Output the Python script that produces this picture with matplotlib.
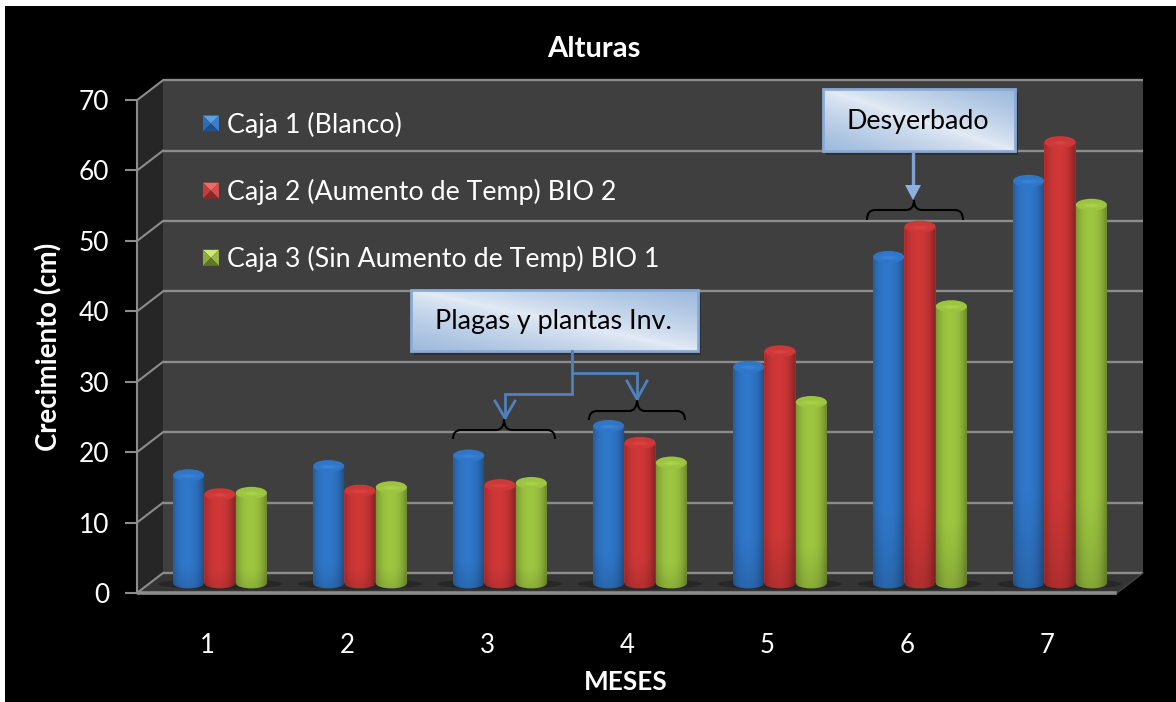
import numpy as np
import matplotlib
matplotlib.use("Agg")
from matplotlib import pyplot as plt
from matplotlib.legend_handler import HandlerBase
from matplotlib.patches import Ellipse, Patch, PathPatch, Polygon, Rectangle
from matplotlib.path import Path
from matplotlib.transforms import ScaledTranslation

MESES = [1, 2, 3, 4, 5, 6, 7]
caja1 = [15.3, 16.6, 18.1, 22.3, 30.7, 46.3, 57.1]
caja2 = [12.6, 13.1, 13.9, 19.9, 32.9, 50.6, 62.6]
caja3 = [12.8, 13.6, 14.2, 17.1, 25.7, 39.3, 53.7]
nombres = ["Caja 1 (Blanco)", "Caja 2 (Aumento de Temp) BIO 2", "Caja 3 (Sin Aumento de Temp) BIO 1"]
colores = ["#2f75c6", "#cb3636", "#9ac23f"]

W, H = 1176, 702
plt.rcParams["font.family"] = ["Lato", "DejaVu Sans"]
fig = plt.figure(figsize=(W / 100, H / 100), dpi=100, facecolor="white")


def caja_px(x0, y0, x1, y1):
    return [x0 / W, 1 - y1 / H, (x1 - x0) / W, (y1 - y0) / H]


# fondo negro y paredes del grafico 3D, en pixeles
fondo = fig.add_axes([0, 0, 1, 1], zorder=0)
fondo.set_xlim(0, W)
fondo.set_ylim(H, 0)
fondo.axis("off")
fondo.add_patch(Rectangle((5, 6), W - 5, H - 6, fc="black", ec="none"))
fondo.add_patch(Rectangle((163, 80), 980, 493, fc="#3f3f3f", ec="none"))
fondo.add_patch(Polygon([(137, 100), (163, 80), (163, 573), (137, 593)], fc="#262626", ec="none"))
fondo.add_patch(Polygon([(137, 593), (163, 573), (1143, 573), (1117, 593)], fc="#343434", ec="none"))
gris = "#8c8c8c"
for i in range(8):
    yb = 573 - i * 70.4
    yf = 593 - i * 70.4
    fondo.plot([163, 1143], [yb, yb], color=gris, lw=1.7, solid_capstyle="butt")
    fondo.plot([137, 163], [yf, yb], color=gris, lw=1.5)
fondo.plot([137, 1117], [593, 593], color=gris, lw=2.6, solid_capstyle="butt")
fondo.plot([1117, 1143], [593, 573], color="#444444", lw=1)

# sombra de los grupos en el piso
for mes in MESES:
    fondo.add_patch(Ellipse((207 + (mes - 1) * 139.9 + 13, 584), 124, 11, fc="#1c1c1c", ec="none", alpha=0.5))

# ejes reales: el plano frontal del grafico
ax = fig.add_axes(caja_px(137, 100, 1117, 593), zorder=1)
ax.patch.set_alpha(0)
ax.set_xlim(0.5, 7.5)
ax.set_ylim(0, 70)
for lado in ["top", "right", "bottom"]:
    ax.spines[lado].set_visible(False)
ax.spines["left"].set_color(gris)
ax.spines["left"].set_linewidth(1.5)
ax.set_xticks(MESES)
ax.set_yticks(range(0, 71, 10))
ax.tick_params(axis="x", length=0, pad=29, labelsize=18.5, colors="white")
ax.tick_params(axis="y", length=9, width=1.5, color=gris, pad=11, labelsize=19, labelcolor="white")
ax.set_xlabel("MESES", fontsize=18.8, fontweight="bold", color="white", va="center")
ax.set_ylabel("Crecimiento (cm)", fontsize=19.9, fontweight="bold", color="white", va="center")
ax.xaxis.set_label_coords(0.499, -0.1805)
ax.yaxis.set_label_coords(-0.0899, 0.5)
ax.set_title("Alturas", fontsize=21, fontweight="bold", color="white", x=0.466, pad=31)

# las barras estan a media profundidad del piso
prof = ax.transData + ScaledTranslation(0.13, 0.10, fig.dpi_scale_trans)
ancho = 0.222
alto_elipse = 12 / 7.04


def cilindro(x, v, color, z):
    rgb = np.array(matplotlib.colors.to_rgb(color))
    l, r = x - ancho / 2, x + ancho / 2
    barra = ax.bar(x, v, ancho, color=color, transform=prof, zorder=z)[0]
    k = alto_elipse / 2 * 1.2
    verts = [(l, v), (l, 0), (l, -k), (r, -k), (r, 0), (r, v), (l, v)]
    codes = [Path.MOVETO, Path.LINETO, Path.CURVE4, Path.CURVE4, Path.CURVE4, Path.LINETO, Path.CLOSEPOLY]
    silueta = PathPatch(Path(verts, codes), transform=prof, fc="none", ec="none")
    ax.add_patch(silueta)
    u = np.linspace(-1, 1, 64)
    t = np.linspace(1, 0, 128)
    luz = 1.02 - 0.30 * np.abs(u + 0.1) ** 2.4
    baja = 0.82 + 0.18 * np.minimum(t[:, None] * 4, 1) ** 0.7
    img = np.clip(rgb[None, None, :] * (luz[None, :] * baja)[:, :, None], 0, 1)
    im = ax.imshow(img, extent=(l, r, -alto_elipse, v), aspect="auto", transform=prof, zorder=z + 0.1, interpolation="bilinear")
    im.set_clip_path(silueta)
    ax.add_patch(Ellipse((x, v), ancho, alto_elipse, fc=np.clip(rgb * 1.01, 0, 1), ec="none", transform=prof, zorder=z + 0.2))
    for f, a in [(0.75, 0.08), (0.55, 0.12), (0.35, 0.16)]:
        ax.add_patch(Ellipse((x, v - 0.1), ancho * f, alto_elipse * f * 0.6, fc=np.clip(rgb * 1.1 + 0.12, 0, 1),
                             ec="none", alpha=a, transform=prof, zorder=z + 0.3))
    return barra


desplaza = [-0.224, 0, 0.224]
for j, serie in enumerate([caja1, caja2, caja3]):
    for mes, valor in zip(MESES, serie):
        cilindro(mes + desplaza[j], valor, colores[j], 3 + j)
ax.set_xlim(0.5, 7.5)
ax.set_ylim(0, 70)

# leyenda con marcador piramidal
biseles = {
    colores[0]: ["#5b9fe6", "#2e6db5", "#3b7fca", "#1f4f8c"],
    colores[1]: ["#f06a68", "#c23c3a", "#d84e4c", "#8a2625"],
    colores[2]: ["#cfe96e", "#8bab3c", "#9bbb46", "#60782a"],
}


class Bisel(HandlerBase):
    def create_artists(self, legend, orig, xd, yd, w, h, fs, trans):
        c = biseles[matplotlib.colors.to_hex(orig.get_facecolor())]
        a = b = 11.5
        y0 = h / 2 - b / 2 - yd
        x0 = 0
        cx, cy = x0 + a / 2, y0 + b / 2
        tri = [
            [(x0, y0 + b), (x0 + a, y0 + b), (cx, cy)],
            [(x0, y0), (x0, y0 + b), (cx, cy)],
            [(x0 + a, y0), (x0 + a, y0 + b), (cx, cy)],
            [(x0, y0), (x0 + a, y0), (cx, cy)],
        ]
        return [Polygon(p, fc=col, ec="none", transform=trans) for p, col in zip(tri, c)]


proxies = [Patch(facecolor=c) for c in colores]
ax.legend(proxies, nombres, handler_map={Patch: Bisel()}, frameon=False, loc="upper left",
          bbox_to_anchor=(0.0673, 0.976), fontsize=19.3, labelcolor="white", labelspacing=1.53,
          handlelength=0.55, handletextpad=0.35, borderpad=0, borderaxespad=0)

# cuadros de texto, llaves y flechas
notas = fig.add_axes([0, 0, 1, 1], zorder=2)
notas.set_xlim(0, W)
notas.set_ylim(H, 0)
notas.axis("off")
notas.patch.set_alpha(0)


def cuadro(x0, y0, x1, y1, texto):
    notas.add_patch(Rectangle((x0 + 3, y0 + 4), x1 - x0, y1 - y0, fc="#222a33", ec="none", alpha=0.75, zorder=1))
    xx, yy = np.meshgrid(np.linspace(0, 1, 120), np.linspace(0, 1, 60))
    s = np.abs(xx - yy)[:, :, None] ** 0.8
    claro = np.array(matplotlib.colors.to_rgb("#e3ebf5"))
    azul = np.array(matplotlib.colors.to_rgb("#9cb9dc"))
    notas.imshow(claro * (1 - s) + azul * s, extent=(x0, x1, y1, y0), aspect="auto", zorder=2)
    notas.add_patch(Rectangle((x0, y0), x1 - x0, y1 - y0, fc="none", ec="#8aaad6", lw=2, zorder=3))
    notas.text((x0 + x1) / 2 - 1, (y0 + y1) / 2 + 1, texto, ha="center", va="center", fontsize=19.4, color="black", zorder=4)


def llave(x0, x1, xm, yb, ym, yt):
    r = 8
    verts = [(x0, yb), (x0, ym), (x0 + r, ym), (xm - r, ym), (xm, ym), (xm, yt),
             (xm, ym), (xm + r, ym), (x1 - r, ym), (x1, ym), (x1, yb)]
    codes = [Path.MOVETO, Path.CURVE3, Path.CURVE3, Path.LINETO, Path.CURVE3, Path.CURVE3,
             Path.CURVE3, Path.CURVE3, Path.LINETO, Path.CURVE3, Path.CURVE3]
    notas.add_patch(PathPatch(Path(verts, codes), fc="none", ec="black", lw=1.5, zorder=5))


llave(453, 555, 504, 439, 430, 419)
llave(589, 685, 637, 420, 411, 399)
llave(867, 963, 914, 220, 210, 200)

azul_l = "#4f81bd"
notas.plot([572, 572, 505, 505], [351, 394, 394, 417], color=azul_l, lw=2, zorder=6, solid_joinstyle="miter")
notas.plot([572, 637, 637], [373, 373, 398], color=azul_l, lw=2, zorder=6, solid_joinstyle="miter")
notas.plot([495, 505, 515], [401, 418, 401], color=azul_l, lw=2, zorder=6)
notas.plot([627, 637, 647], [381, 399, 381], color=azul_l, lw=2, zorder=6)
notas.plot([913, 913], [151, 187], color="#7fa2d0", lw=2.4, zorder=6, solid_capstyle="butt")
notas.add_patch(Polygon([(905, 185), (921, 185), (913, 200)], fc="#8db0dc", ec="none", zorder=6))

cuadro(411, 290, 698, 351, "Plagas y plantas Inv.")
cuadro(823, 89, 1015, 151, "Desyerbado")
notas.set_xlim(0, W)
notas.set_ylim(H, 0)

fig.savefig("out.png", dpi=100, facecolor="white")
